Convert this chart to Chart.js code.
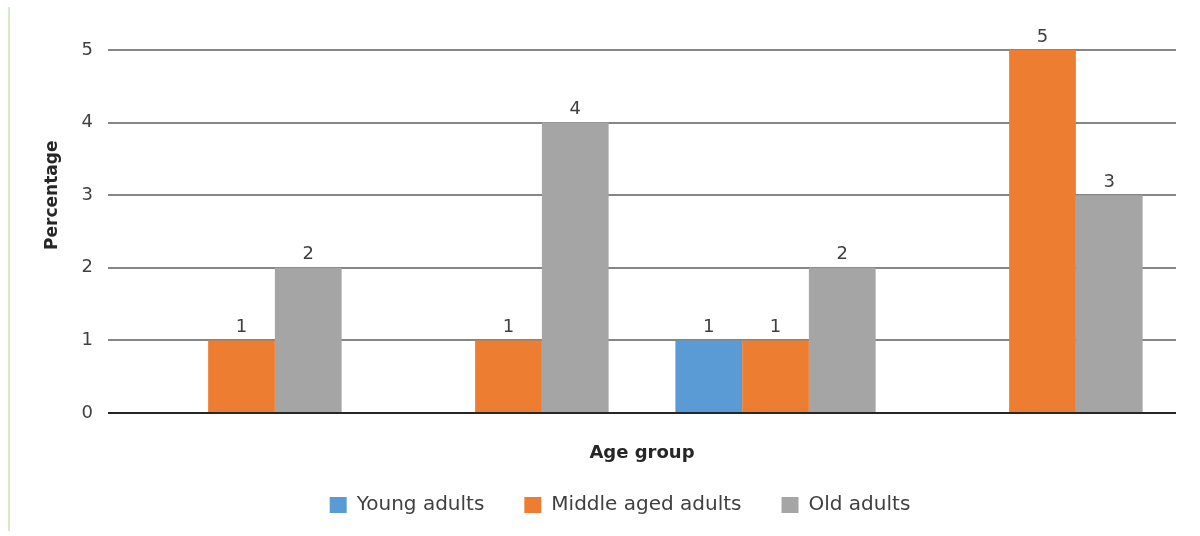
<!DOCTYPE html>
<html>
<head>
<meta charset="utf-8">
<script src="https://cdn.jsdelivr.net/npm/chart.js@4.4.0/dist/chart.umd.min.js"></script>
<style>
  html, body { margin: 0; padding: 0; background: #fff; }
  #wrap { position: relative; width: 1200px; height: 536px; }
  #edge { position: absolute; left: 8px; top: 7px; width: 2px; height: 524px; background: #d7ebc8; }
</style>
</head>
<body>
<div id="wrap">
  <div id="edge"></div>
  <canvas id="chart" width="1200" height="536"></canvas>
</div>
<script>
// chart data
const categories = ['', '', '', ''];
const youngAdults = [0, 0, 1, 0];
const middleAged = [1, 1, 1, 5];
const oldAdults = [2, 4, 2, 3];
const yTicks = [0, 1, 2, 3, 4, 5];
const yTitle = 'Percentage';

const FONT = "'DejaVu Sans', sans-serif";

// labels above bars, skip zeros
const valueLabels = {
  id: 'valueLabels',
  afterDatasetsDraw(chart) {
    const ctx = chart.ctx;
    ctx.save();
    ctx.font = '18px ' + FONT;
    ctx.fillStyle = '#404040';
    ctx.textAlign = 'center';
    ctx.textBaseline = 'bottom';
    chart.data.datasets.forEach((ds, i) => {
      chart.getDatasetMeta(i).data.forEach((bar, j) => {
        if (!ds.data[j]) return;
        ctx.fillText(ds.data[j], bar.x, bar.y - 4);
      });
    });
    ctx.restore();
  }
};

// y title sits a bit above the plot middle in the original
const yTitlePlugin = {
  id: 'yTitle',
  afterDraw(chart) {
    const ctx = chart.ctx;
    const a = chart.chartArea;
    ctx.save();
    ctx.translate(53, a.top + (a.bottom - a.top) * 0.4);
    ctx.rotate(-Math.PI / 2);
    ctx.font = 'bold 17px ' + FONT;
    ctx.fillStyle = '#262626';
    ctx.textAlign = 'center';
    ctx.textBaseline = 'middle';
    ctx.fillText(yTitle, 0, 0);
    ctx.restore();
  }
};

new Chart(document.getElementById('chart'), {
  type: 'bar',
  data: {
    labels: categories,
    datasets: [
      { label: 'Young adults', data: youngAdults, backgroundColor: '#5b9bd5' },
      { label: 'Middle aged adults', data: middleAged, backgroundColor: '#ed7d31' },
      { label: 'Old adults', data: oldAdults, backgroundColor: '#a5a5a5' }
    ]
  },
  options: {
    responsive: false,
    animation: false,
    layout: { padding: { top: 50, right: 24, bottom: 11, left: 64 } },
    datasets: { bar: { categoryPercentage: 0.75, barPercentage: 1 } },
    scales: {
      x: {
        grid: { display: false },
        border: { display: false },
        ticks: { display: false },
        title: {
          display: true, text: 'Age group',
          font: { family: FONT, size: 18, weight: 'bold' }, color: '#262626',
          padding: { top: 0, bottom: -9 }
        },
        afterFit(s) { s.height = 42; }
      },
      y: {
        min: 0, max: 5,
        afterBuildTicks(s) { s.ticks = yTicks.map(v => ({ value: v })); },
        grid: {
          drawTicks: false,
          color: c => c.tick && c.tick.value === 0 ? '#262626' : '#868686',
          lineWidth: 2
        },
        border: { display: false },
        ticks: { padding: 15, font: { family: FONT, size: 18 }, color: '#404040' },
        title: { display: false },
        afterFit(s) { s.width = 44; }
      }
    },
    plugins: {
      legend: {
        position: 'bottom',
        labels: {
          boxWidth: 17, boxHeight: 16, padding: 40,
          font: { family: FONT, size: 20 }, color: '#404040'
        }
      },
      tooltip: { enabled: false }
    }
  },
  plugins: [valueLabels, yTitlePlugin]
});
</script>
</body>
</html>
